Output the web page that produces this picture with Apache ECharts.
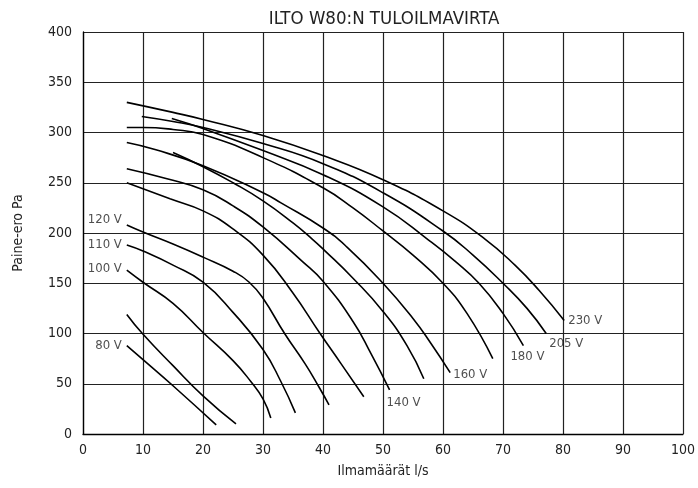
<!DOCTYPE html>
<html><head><meta charset="utf-8">
<script src="https://cdn.jsdelivr.net/npm/echarts@6/dist/echarts.min.js"></script>
<style>html,body{margin:0;padding:0;background:#fff}#c{width:698px;height:488px}</style>
</head><body><div id="c"></div>
<script>
const title = 'ILTO W80:N TULOILMAVIRTA';
const xName = 'Ilmamäärät l/s';
const yName = 'Paine-ero Pa';
const xTicks = [0,10,20,30,40,50,60,70,80,90,100];
const yTicks = [0,50,100,150,200,250,300,350,400];

// curves [airflow l/s, pressure Pa]
const c230 = [[7.3,330],[15,320],[20,313],[30,297],[40,277],[50,253],[60,222],[67,194],[72,168],[76,143],[80.2,113]];
const c205 = [[9.8,316],[15,311],[20,305],[30,289],[40,269],[50,240],[60,202],[65,178],[70,150],[74,125],[77.2,100]];
const c180 = [[14.8,314],[20,304],[30,282],[40,258],[50,226],[57.6,193],[62,172],[66,150],[70,120],[73.4,88]];
const cU1  = [[7.3,305],[10,305],[15,303],[20,298],[30,275],[40,245],[45,225],[50,202],[55,178],[60,150],[64,120],[68.3,75]];
const c160 = [[7.3,290],[12,283],[20,267],[30,240],[33,230],[40,205],[44,186],[50,150],[55,115],[58,90],[61.2,61]];
const cU2  = [[15,280],[20,266],[25,250],[30,232],[35,210],[38.2,194],[40.2,183],[45,155],[50,122],[54,88],[56.8,55]];
const c140 = [[7.3,264],[14,254],[20,243],[25,227],[30,206],[36.5,172],[40,152],[45,112],[48,80],[51.1,44]];
const cU3  = [[7.3,250],[14.5,234],[20,222],[25,204],[30,178],[34.9,141],[39.4,101],[43,70],[46.8,37]];
const c120 = [[7.3,208],[10,201],[15,189],[20,176],[25,162],[27.7,151],[30,135],[33.6,100],[37,70],[39.4,46],[41,29]];
const c110 = [[7.3,188],[10,182],[15,168],[20,151],[25,121],[30,84],[33,52],[35.4,21]];
const c100 = [[7.3,163],[10,151],[15,130],[20,101],[25,73],[28,52],[30,35],[31.3,16]];
const cU4  = [[7.3,119],[9.9,100],[15,68],[20,38],[25.5,10]];
const c80  = [[7.3,88],[10,74],[15,48],[22.2,9]];

const curves = [c230,c205,c180,cU1,c160,cU2,c140,cU3,c120,c110,c100,cU4,c80];

// labels: text, curve, offset, align
const labelsRight = [
  ['230 V', c230, [4, 0], 'left'],
  ['205 V', c205, [3, 10], 'left'],
  ['180 V', c180, [-13, 11], 'left'],
  ['160 V', c160, [3, 2], 'left'],
  ['140 V', c140, [-3, 13], 'left']
];
const labelsLeft = [
  ['120 V', c120, [-5, -5], 'right'],
  ['110 V', c110, [-5, 0], 'right'],
  ['100 V', c100, [-5, -2], 'right'],
  ['80 V', c80, [-5, 0], 'right']
];

const FONT = '"Liberation Sans Narrow","DejaVu Sans Condensed",sans-serif';
const chart = echarts.init(document.getElementById('c'), null, {renderer:'canvas'});

const series = curves.map(d => ({
  type:'line', data:d, showSymbol:false, smooth:0.5,
  lineStyle:{color:'#000', width:1.6}, silent:true, z:3
}));

function labelSeries(list, atEnd){
  return {
    type:'scatter', symbolSize:0, silent:true, z:5,
    data: list.map(([t, c, off, align]) => {
      const p = atEnd ? c[c.length-1] : c[0];
      return {value:[p[0], p[1]], label:{show:true, formatter:t, position:'inside', offset:off, align:align, verticalAlign:'middle', color:'#222', fontSize:13, fontFamily:FONT}};
    })
  };
}
series.push(labelSeries(labelsRight, true));
series.push(labelSeries(labelsLeft, false));

chart.setOption({
  animation:false,
  backgroundColor:'#fff',
  title:{text:title, left:379, top:5, textAlign:'center', textStyle:{fontFamily:FONT, fontSize:18.5, fontWeight:'normal', color:'#222'}},
  grid:{left:83, right:13, top:32, bottom:54},
  xAxis:{type:'value', min:0, max:100, interval:10, name:xName, nameLocation:'middle', nameGap:30,
    nameTextStyle:{fontFamily:FONT, fontSize:14, color:'#222'},
    axisLine:{show:true, lineStyle:{color:'#000', width:1.3}}, axisTick:{show:false},
    axisLabel:{fontFamily:FONT, fontSize:14, color:'#222', margin:9, formatter:v => xTicks.includes(v)? String(v):''},
    splitLine:{show:true, lineStyle:{color:'#222', width:1.2}}},
  yAxis:{type:'value', min:0, max:400, interval:50, name:yName, nameLocation:'middle', nameGap:58,
    nameTextStyle:{fontFamily:FONT, fontSize:14, color:'#222'},
    axisLine:{show:true, lineStyle:{color:'#000', width:1.3}}, axisTick:{show:false},
    axisLabel:{fontFamily:FONT, fontSize:14, color:'#222', margin:11, formatter:v => yTicks.includes(v)? String(v):''},
    splitLine:{show:true, lineStyle:{color:'#222', width:1.2}}},
  series:series
});
</script></body></html>
